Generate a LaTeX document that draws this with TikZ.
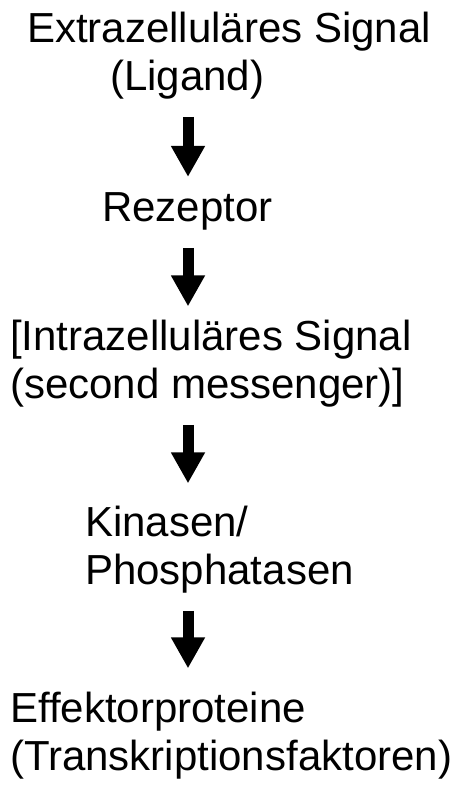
\documentclass[tikz,border=0pt]{standalone}
\usepackage{fontspec}
\setmainfont{Liberation Sans}
\usetikzlibrary{arrows.meta}

\tikzset{
  stage/.style={anchor=base west, inner sep=0pt, align=left,
    font=\fontsize{42}{48}\selectfont},
  sig/.style={line width=11pt, shorten <=18pt,
    -{Triangle[width=32pt,length=31pt]}}
}

\begin{document}
\begin{tikzpicture}[x=1pt, y=-1pt]
  \useasboundingbox (0,0) rectangle (466,787);

  % Stufen der Signalkette (Basislinie = letzte Zeile)
  \node[stage] (lig) at (27,90) {Extrazelluläres Signal\\\hspace*{83pt}(Ligand)};
  \node[stage] (rez) at (102,221) {Rezeptor};
  \node[stage] (intra) at (10,398) {[Intrazelluläres Signal\\(second messenger)]};
  \node[stage] (kin) at (85,584) {Kinasen/\\Phosphatasen};
  \node[stage] (eff) at (10,770) {Effektorproteine\\(Transkriptionsfaktoren)};

  % Pfeile entlang einer gemeinsamen Achse
  \coordinate (ax) at (188,0);
  \draw[sig, shorten >=15pt] (lig.south -| ax) -- (rez.north -| ax);
  \draw[sig, shorten >=13pt] (rez.south -| ax) -- (intra.north -| ax);
  \draw[sig, shorten >=22pt] (intra.south -| ax) -- (kin.north -| ax);
  \draw[sig, shorten >=23pt] (kin.south -| ax) -- (eff.north -| ax);
\end{tikzpicture}
\end{document}
